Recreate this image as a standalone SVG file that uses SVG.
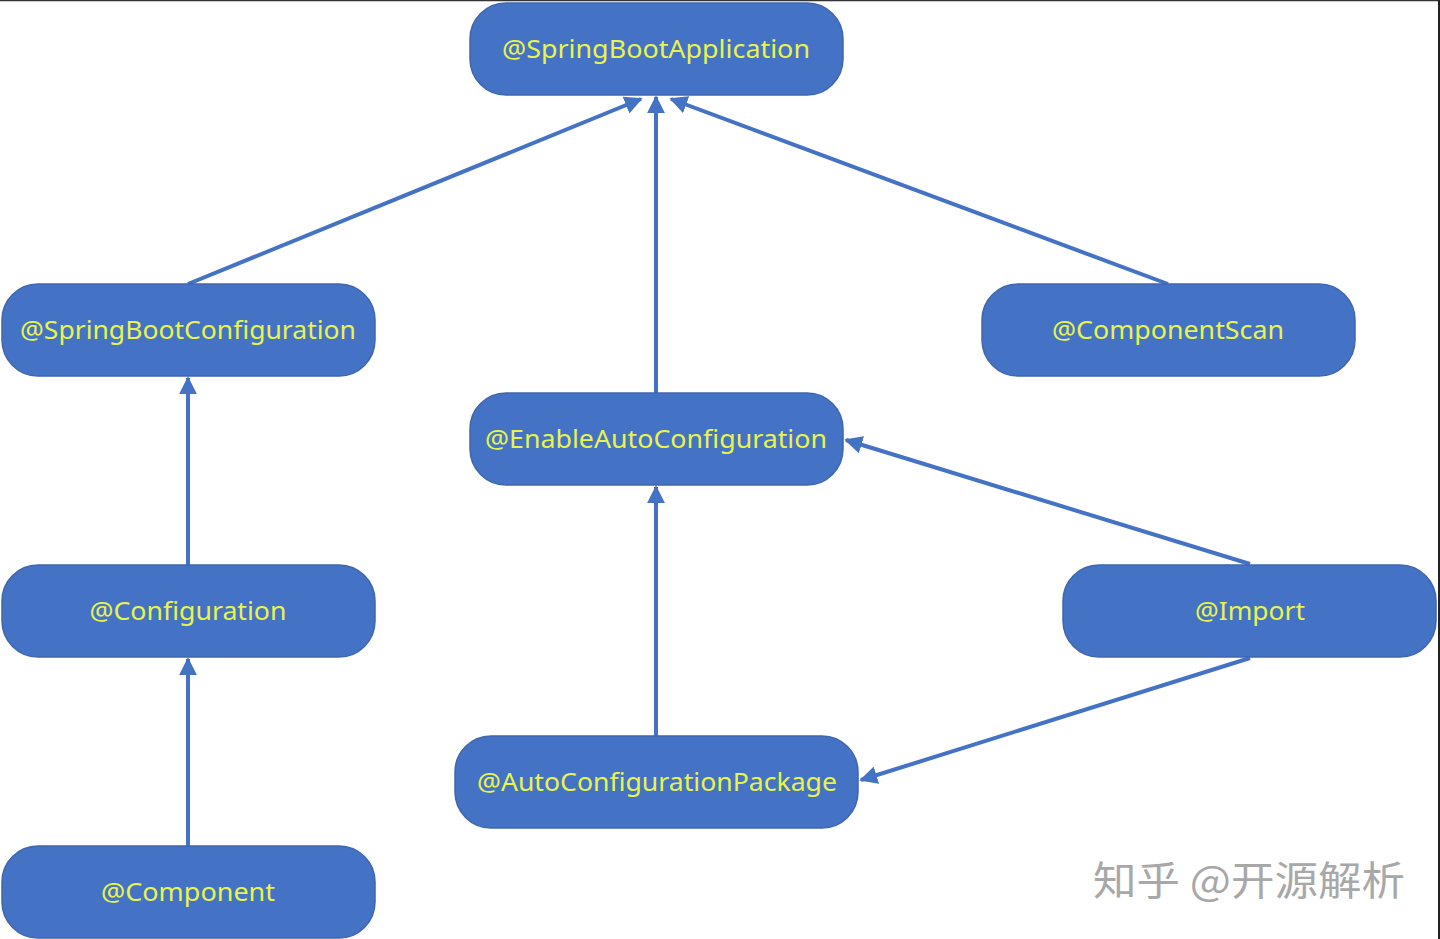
<svg xmlns="http://www.w3.org/2000/svg" width="1440" height="939" viewBox="0 0 1440 939">
<style>
.node rect{fill:#4472C4;stroke:#3F66AE;stroke-width:1.5}
.node text{fill:#E8F44C;font-family:"Noto Sans","Open Sans",sans-serif;font-size:25px;text-anchor:middle;dominant-baseline:central}
.edge{stroke:#4472C4;stroke-width:4;fill:none;marker-end:url(#ah)}
.wm{fill:#A8A8A8;font-family:"Noto Sans CJK SC","Noto Sans",sans-serif;font-size:40px}
</style>
<defs>
<marker id="ah" viewBox="0 0 10 10" refX="9" refY="5" markerWidth="4.5" markerHeight="4.5" orient="auto" markerUnits="strokeWidth">
<path d="M0,0 L10,5 L0,10 z" fill="#4472C4"/>
</marker>
</defs>
<rect x="0" y="0" width="1440" height="939" fill="#FFFFFF"/>
<line x1="0" y1="0.5" x2="1440" y2="0.5" stroke="#333" stroke-width="1.5"/>
<line x1="1439" y1="0" x2="1439" y2="939" stroke="#222" stroke-width="2"/>
<g id="connectors">
<line class="edge" x1="188" y1="284" x2="641" y2="99"/>
<line class="edge" x1="656" y1="393" x2="656" y2="97"/>
<line class="edge" x1="1168" y1="284" x2="671" y2="99"/>
<line class="edge" x1="188" y1="565" x2="188" y2="378"/>
<line class="edge" x1="188" y1="846" x2="188" y2="659"/>
<line class="edge" x1="656" y1="736" x2="656" y2="487"/>
<line class="edge" x1="1250" y1="564" x2="846" y2="440"/>
<line class="edge" x1="1250" y1="658" x2="861" y2="780"/>
</g>
<g id="n-springbootapplication" class="node"><rect x="470" y="3" width="373" height="92" rx="36"/><text x="656" y="48" textLength="308" lengthAdjust="spacingAndGlyphs">@SpringBootApplication</text></g>
<g id="n-springbootconfiguration" class="node"><rect x="2" y="284" width="373" height="92" rx="36"/><text x="188" y="329" textLength="336" lengthAdjust="spacingAndGlyphs">@SpringBootConfiguration</text></g>
<g id="n-componentscan" class="node"><rect x="982" y="284" width="373" height="92" rx="36"/><text x="1168" y="329" textLength="232" lengthAdjust="spacingAndGlyphs">@ComponentScan</text></g>
<g id="n-enableautoconfiguration" class="node"><rect x="470" y="393" width="373" height="92" rx="36"/><text x="656" y="438" textLength="342" lengthAdjust="spacingAndGlyphs">@EnableAutoConfiguration</text></g>
<g id="n-configuration" class="node"><rect x="2" y="565" width="373" height="92" rx="36"/><text x="188" y="610" textLength="197" lengthAdjust="spacingAndGlyphs">@Configuration</text></g>
<g id="n-import" class="node"><rect x="1063" y="565" width="373" height="92" rx="36"/><text x="1250" y="610" textLength="110" lengthAdjust="spacingAndGlyphs">@Import</text></g>
<g id="n-autoconfigurationpackage" class="node"><rect x="455" y="736" width="403" height="92" rx="36"/><text x="657" y="781" textLength="360" lengthAdjust="spacingAndGlyphs">@AutoConfigurationPackage</text></g>
<g id="n-component" class="node"><rect x="2" y="846" width="373" height="92" rx="36"/><text x="188" y="891" textLength="174" lengthAdjust="spacingAndGlyphs">@Component</text></g>
<text class="wm" x="1093" y="895" textLength="312" lengthAdjust="spacingAndGlyphs">知乎 @开源解析</text>
</svg>
